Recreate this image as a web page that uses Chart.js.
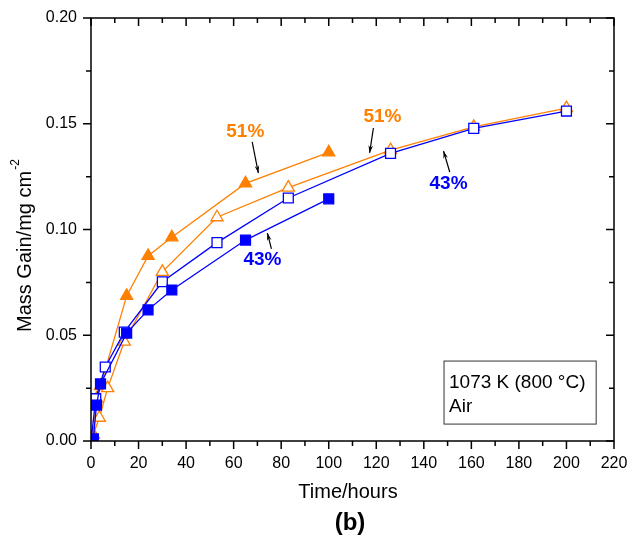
<!DOCTYPE html>
<html>
<head>
<meta charset="utf-8">
<script src="https://cdn.jsdelivr.net/npm/chart.js@4.4.0/dist/chart.umd.min.js"></script>
<style>
  html, body { margin: 0; padding: 0; background: #fff; }
  #wrap { width: 630px; height: 538px; }
</style>
</head>
<body>
<div id="wrap"><canvas id="massChart" width="630" height="538"></canvas></div>
<script>
// values (time in hours, mass gain in mg/cm2)
const timeFilled43 = [1, 2.3, 4, 15, 24, 34, 65, 100];
const gainFilled43 = [0.001, 0.017, 0.027, 0.051, 0.062, 0.0714, 0.095, 0.1145];

const timeOpen43 = [0, 2, 6, 14, 30, 53, 83, 126, 161, 200];
const gainOpen43 = [0, 0.02, 0.035, 0.0515, 0.0753, 0.0938, 0.1149, 0.136, 0.1478, 0.156];

const timeOpen51 = [0, 3.5, 7, 14, 30, 53, 83, 126, 161, 200];
const gainOpen51 = [0, 0.011, 0.025, 0.047, 0.080, 0.1058, 0.1198, 0.1375, 0.1485, 0.1574];

const timeFilled51 = [1, 2.3, 4, 15, 24, 34, 65, 100];
const gainFilled51 = [0.003, 0.02, 0.026, 0.0686, 0.0875, 0.0963, 0.1218, 0.1365];

const xTickLabels = ['0', '20', '40', '60', '80', '100', '120', '140', '160', '180', '200', '220'];
const yTickLabels = ['0.00', '0.05', '0.10', '0.15', '0.20'];

const orange = '#ff8000';
const blue = '#0000ff';
const fontFamily = '"Liberation Sans", Arial, Helvetica, sans-serif';

// text notes and arrows, in data units
const notes = [
    { text: '51%', color: orange, x: 64.9, y: 0.1461, from: [67.8, 0.1414], to: [70.4, 0.1267] },
    { text: '51%', color: orange, x: 122.6, y: 0.1532, from: [118.8, 0.1480], to: [117.2, 0.1362] },
    { text: '43%', color: blue, x: 72.1, y: 0.0856, from: [75.9, 0.0908], to: [74.2, 0.0983] },
    { text: '43%', color: blue, x: 150.4, y: 0.1215, from: [150.9, 0.1272], to: [148.3, 0.1371] }
];

function series(times, gains, color, shape, fill) {
    return {
        data: times.map((t, i) => ({ x: t, y: gains[i] })),
        showLine: true,
        borderColor: color,
        borderWidth: 1.3,
        pointStyle: shape,
        pointRadius: 7,
        pointBorderWidth: 1.3,
        pointBorderColor: color,
        pointBackgroundColor: fill
    };
}

function drawArrow(ctx, x1, y1, x2, y2) {
    const ang = Math.atan2(y2 - y1, x2 - x1);
    ctx.beginPath();
    ctx.moveTo(x1, y1);
    ctx.lineTo(x2, y2);
    ctx.stroke();
    ctx.beginPath();
    ctx.moveTo(x2, y2);
    ctx.lineTo(x2 - 8 * Math.cos(ang - 0.3), y2 - 8 * Math.sin(ang - 0.3));
    ctx.lineTo(x2 - 5 * Math.cos(ang), y2 - 5 * Math.sin(ang));
    ctx.lineTo(x2 - 8 * Math.cos(ang + 0.3), y2 - 8 * Math.sin(ang + 0.3));
    ctx.closePath();
    ctx.fill();
}

// stop Chart.js from shrinking the plot for overhanging tick labels
function noLabelPadding(s) {
    s.paddingLeft = 0;
    s.paddingRight = 0;
    s.paddingTop = 0;
    s.paddingBottom = 0;
}

const framePlugin = {
    id: 'frame',
    afterDraw(chart) {
        const ctx = chart.ctx;
        const a = chart.chartArea;
        const xs = chart.scales.x;
        const ys = chart.scales.y;
        ctx.save();
        ctx.strokeStyle = '#000';
        ctx.fillStyle = '#000';
        ctx.lineWidth = 1.5;
        ctx.strokeRect(a.left, a.top, a.right - a.left, a.bottom - a.top);

        // x ticks: outward at bottom, inward at top
        for (let v = 0; v <= 220; v += 10) {
            const px = xs.getPixelForValue(v);
            const len = v % 20 === 0 ? 8 : 5;
            ctx.beginPath();
            ctx.moveTo(px, a.bottom);
            ctx.lineTo(px, a.bottom + len);
            ctx.moveTo(px, a.top);
            ctx.lineTo(px, a.top + len);
            ctx.stroke();
        }
        // y ticks: outward at left, inward at right
        for (let i = 0; i <= 8; i++) {
            const v = i * 0.025;
            const py = ys.getPixelForValue(v);
            const len = i % 2 === 0 ? 8 : 5;
            ctx.beginPath();
            ctx.moveTo(a.left, py);
            ctx.lineTo(a.left - len, py);
            ctx.moveTo(a.right, py);
            ctx.lineTo(a.right - len, py);
            ctx.stroke();
        }

        // axis titles
        ctx.font = '20px ' + fontFamily;
        ctx.textAlign = 'center';
        ctx.textBaseline = 'alphabetic';
        ctx.fillText('Time/hours', 348, 498);
        ctx.font = 'bold 24px ' + fontFamily;
        ctx.fillText('(b)', 350, 530);

        ctx.save();
        ctx.translate(31, 332);
        ctx.rotate(-Math.PI / 2);
        ctx.textAlign = 'left';
        ctx.font = '20px ' + fontFamily;
        const main = 'Mass Gain/mg cm';
        ctx.fillText(main, 0, 0);
        const w = ctx.measureText(main).width;
        ctx.font = '12px ' + fontFamily;
        ctx.fillText('-2', w + 1, -12);
        ctx.restore();

        // condition box
        const bx1 = xs.getPixelForValue(148.5), by1 = ys.getPixelForValue(0.0378);
        const bx2 = xs.getPixelForValue(212.5), by2 = ys.getPixelForValue(0.0080);
        ctx.fillStyle = '#fff';
        ctx.fillRect(bx1, by1, bx2 - bx1, by2 - by1);
        ctx.strokeStyle = '#333';
        ctx.lineWidth = 1;
        ctx.strokeRect(bx1, by1, bx2 - bx1, by2 - by1);
        ctx.fillStyle = '#000';
        ctx.font = '19px ' + fontFamily;
        ctx.textAlign = 'left';
        ctx.fillText('1073 K (800 \u00B0C)', bx1 + 5, by1 + 27);
        ctx.fillText('Air', bx1 + 5, by1 + 51);

        // percentage notes with arrows
        ctx.textAlign = 'center';
        ctx.textBaseline = 'middle';
        ctx.font = 'bold 19px ' + fontFamily;
        notes.forEach(n => {
            ctx.fillStyle = n.color;
            ctx.fillText(n.text, xs.getPixelForValue(n.x), ys.getPixelForValue(n.y));
            ctx.strokeStyle = '#000';
            ctx.fillStyle = '#000';
            ctx.lineWidth = 1.2;
            drawArrow(ctx,
                xs.getPixelForValue(n.from[0]), ys.getPixelForValue(n.from[1]),
                xs.getPixelForValue(n.to[0]), ys.getPixelForValue(n.to[1]));
        });
        ctx.restore();
    }
};

const ctx = document.getElementById('massChart').getContext('2d');
new Chart(ctx, {
    type: 'scatter',
    data: {
        datasets: [
            series(timeFilled43, gainFilled43, blue, 'rect', blue),
            series(timeOpen43, gainOpen43, blue, 'rect', '#ffffff'),
            series(timeOpen51, gainOpen51, orange, 'triangle', '#ffffff'),
            series(timeFilled51, gainFilled51, orange, 'triangle', orange)
        ]
    },
    options: {
        responsive: false,
        animation: false,
        layout: { padding: { top: 18, right: 16, left: 0, bottom: 0 } },
        plugins: {
            legend: { display: false },
            tooltip: { enabled: false }
        },
        scales: {
            x: {
                type: 'linear',
                min: 0,
                max: 220,
                grid: { display: false, drawTicks: false },
                border: { display: false },
                ticks: {
                    stepSize: 20,
                    autoSkip: false,
                    maxRotation: 0,
                    padding: 13,
                    color: '#000',
                    font: { family: fontFamily, size: 16 },
                    callback: (v, i) => xTickLabels[i]
                },
                afterFit: s => { s.height = 97; noLabelPadding(s); }
            },
            y: {
                min: 0,
                max: 0.2,
                grid: { display: false, drawTicks: false },
                border: { display: false },
                ticks: {
                    stepSize: 0.05,
                    padding: 14,
                    color: '#000',
                    font: { family: fontFamily, size: 16 },
                    callback: (v, i) => yTickLabels[i]
                },
                afterFit: s => { s.width = 91; noLabelPadding(s); }
            }
        }
    },
    plugins: [framePlugin]
});
</script>
</body>
</html>
